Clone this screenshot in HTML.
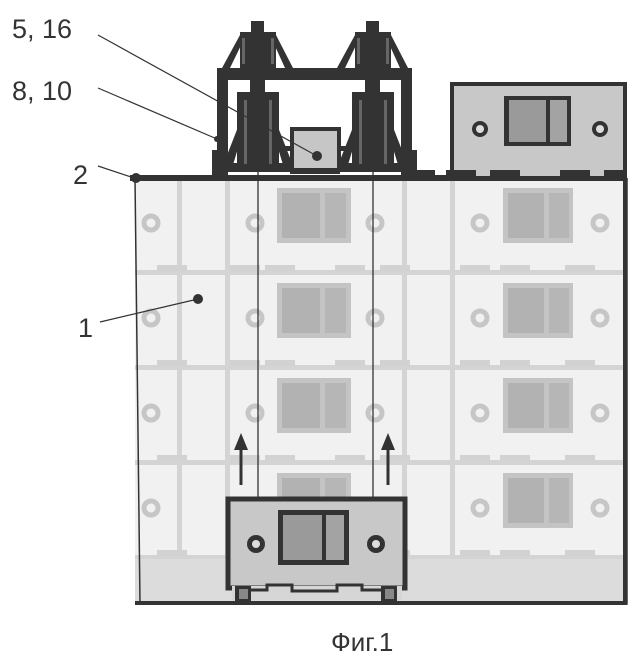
<!DOCTYPE html>
<html><head><meta charset="utf-8"><style>
html,body{margin:0;padding:0;background:#fff;}
svg{display:block;}
text{font-family:"Liberation Sans",sans-serif;fill:#333;}
</style></head><body>
<svg width="639" height="663" viewBox="0 0 639 663" xmlns="http://www.w3.org/2000/svg">
<!-- building -->
<rect x="135" y="178" width="492" height="426" fill="#f1f1f1"/>
<rect x="135" y="557" width="492" height="47" fill="#dcdcdc"/>
<g fill="#d4d4d4">
<rect x="177" y="178" width="5" height="379"/>
<rect x="225" y="178" width="5" height="379"/>
<rect x="402" y="178" width="5" height="379"/>
<rect x="450" y="178" width="5" height="379"/>
<rect x="135" y="270" width="492" height="5"/>
<rect x="135" y="365" width="492" height="5"/>
<rect x="135" y="460" width="492" height="5"/>
<rect x="135" y="555" width="492" height="4"/>
</g>
<g id="row">
<g fill="#d2d2d2">
<rect x="157" y="265" width="30" height="6"/><rect x="230" y="265" width="30" height="6"/><rect x="265" y="265" width="30" height="6"/><rect x="335" y="265" width="30" height="6"/><rect x="380" y="265" width="30" height="6"/><rect x="460" y="265" width="30" height="6"/><rect x="500" y="265" width="30" height="6"/><rect x="565" y="265" width="30" height="6"/>
</g>
<rect x="277" y="188" width="74" height="55" fill="#c4c4c4"/>
<rect x="282" y="193" width="38" height="45" fill="#b2b2b2"/><rect x="325" y="193" width="21" height="45" fill="#b6b6b6"/>
<rect x="503" y="188" width="70" height="55" fill="#c4c4c4"/>
<rect x="508" y="193" width="36" height="45" fill="#b2b2b2"/><rect x="549" y="193" width="20" height="45" fill="#b6b6b6"/>
<g fill="none" stroke="#c6c6c6" stroke-width="5">
<circle cx="151" cy="223" r="7"/><circle cx="255" cy="223" r="7"/><circle cx="375" cy="223" r="7"/><circle cx="480" cy="223" r="7"/><circle cx="600" cy="223" r="7"/>
</g>
</g>
<use href="#row" y="95"/>
<use href="#row" y="190"/>
<use href="#row" y="285"/>
<!-- outline -->
<path d="M135 178 L140 604 L627 604 L627 178" fill="none" stroke="#333" stroke-width="1.5"/>
<rect x="135" y="601" width="492" height="4" fill="#333"/>
<rect x="623" y="178" width="4" height="427" fill="#333"/>
<rect x="130" y="175" width="320" height="6" fill="#333"/>
<rect x="440" y="175" width="187" height="6" fill="#333"/>
<circle cx="136" cy="178" r="5" fill="#333"/>
<!-- top right module -->
<rect x="452" y="84" width="173" height="94" fill="#c8c8c8" stroke="#333" stroke-width="4"/>
<g fill="#333"><rect x="446" y="170" width="30" height="7"/><rect x="490" y="170" width="30" height="7"/><rect x="560" y="170" width="30" height="7"/><rect x="604" y="170" width="23" height="7"/><rect x="415" y="170" width="20" height="7"/></g>
<rect x="504" y="96" width="67" height="50" fill="#333"/>
<rect x="509" y="100" width="37" height="42" fill="#9a9a9a"/><rect x="550" y="100" width="17" height="42" fill="#a3a3a3"/>
<circle cx="480" cy="129" r="8" fill="#333"/><circle cx="480" cy="129" r="4" fill="#ddd"/>
<circle cx="600" cy="129" r="8" fill="#333"/><circle cx="600" cy="129" r="4" fill="#ddd"/>
<!-- cables -->
<line x1="258" y1="80" x2="258" y2="499" stroke="#333" stroke-width="1.3"/>
<line x1="373" y1="80" x2="373" y2="499" stroke="#333" stroke-width="1.3"/>
<!-- frame -->
<g fill="#333">
<rect x="217" y="68" width="195" height="12"/>
<rect x="217" y="68" width="11" height="108"/>
<rect x="401" y="68" width="11" height="108"/>
<rect x="212" y="150" width="12" height="26"/><rect x="405" y="150" width="12" height="26"/>
<rect x="222" y="163" width="70" height="9"/><rect x="338" y="163" width="72" height="9"/>
<rect x="290" y="150" width="50" height="24"/>
<rect x="280" y="146" width="12" height="5"/><rect x="340" y="146" width="12" height="5"/>
</g>
<g id="tw" fill="#333">
<rect x="251" y="21" width="13" height="60"/>
<rect x="240" y="32" width="36" height="36"/>
<polygon points="222,68 240,35 246,35 230,68"/>
<polygon points="293,68 276,35 270,35 285,68"/>
<rect x="250" y="80" width="15" height="30"/>
<rect x="237" y="92" width="42" height="76"/>
<polygon points="222,168 240,122 246,122 232,168"/>
<polygon points="294,168 276,122 270,122 284,168"/>
<rect x="242" y="38" width="3" height="26" fill="#666"/><rect x="271" y="38" width="3" height="26" fill="#666"/>
<rect x="244" y="100" width="3" height="64" fill="#666"/><rect x="269" y="100" width="3" height="64" fill="#666"/>
</g>
<use href="#tw" x="115"/>
<rect x="292" y="129" width="47" height="41" fill="#c6c6c6" stroke="#333" stroke-width="4"/>
<circle cx="317" cy="156" r="5" fill="#333"/>
<!-- arrows -->
<g stroke="#333" stroke-width="3"><line x1="241" y1="485" x2="241" y2="445"/><line x1="388" y1="485" x2="388" y2="445"/></g>
<g fill="#333"><polygon points="241,433 234,450 248,450"/><polygon points="388,433 381,450 395,450"/></g>
<!-- car -->
<rect x="228" y="499" width="177" height="89" fill="#c8c8c8" stroke="#333" stroke-width="5"/>
<rect x="232" y="586" width="170" height="14" fill="#d6d6d6"/>
<path d="M248 590 L267 590 L267 585 L292 585 L292 591 L337 591 L337 585 L362 585 L362 590 L383 590" fill="none" stroke="#333" stroke-width="3"/>
<rect x="235" y="586" width="16" height="17" fill="#333"/><rect x="239" y="589" width="9" height="10" fill="#888"/>
<rect x="381" y="586" width="16" height="17" fill="#333"/><rect x="385" y="589" width="9" height="10" fill="#888"/>
<rect x="278" y="510" width="71" height="55" fill="#333"/>
<rect x="283" y="515" width="39" height="45" fill="#9a9a9a"/><rect x="326" y="515" width="18" height="45" fill="#a3a3a3"/>
<circle cx="256" cy="544" r="9" fill="#333"/><circle cx="256" cy="544" r="4" fill="#ddd"/>
<circle cx="376" cy="544" r="9" fill="#333"/><circle cx="376" cy="544" r="4" fill="#ddd"/>
<!-- labels -->
<text x="12" y="38" font-size="27">5, 16</text>
<text x="12" y="100" font-size="27">8, 10</text>
<text x="73" y="184" font-size="27">2</text>
<text x="78" y="337" font-size="27">1</text>
<text x="331" y="651" font-size="26">Фиг.1</text>
<g stroke="#333" stroke-width="1.2" fill="none">
<line x1="98" y1="35" x2="317" y2="156"/>
<line x1="98" y1="88" x2="217" y2="139"/>
<line x1="98" y1="166" x2="134" y2="178"/>
<line x1="100" y1="322" x2="198" y2="299"/>
</g>
<circle cx="217" cy="139" r="3" fill="#333"/>
<circle cx="198" cy="299" r="5" fill="#333"/>
</svg>
</body></html>
